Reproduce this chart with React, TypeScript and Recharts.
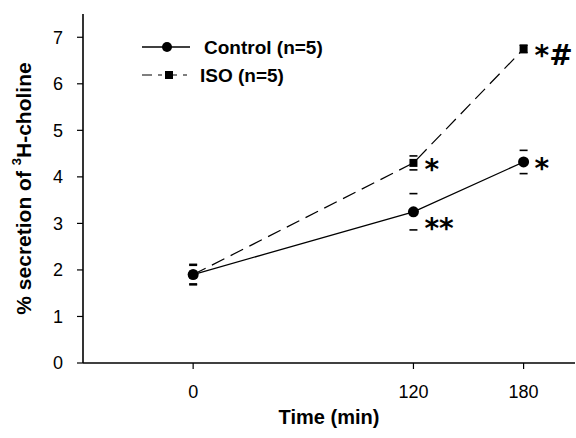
import {
  ComposedChart,
  Line,
  Scatter,
  XAxis,
  YAxis,
  Legend,
  LabelList,
} from 'recharts';

const times = [0, 120, 180];
const controlMean = [1.9, 3.25, 4.32];
const controlErr = [0.22, 0.39, 0.25];
const controlMarks = ['', '**', '*'];
const isoMean = [1.9, 4.3, 6.75];
const isoErr = [0.2, 0.15, 0.08];
const isoMarks = ['', '*', '*#'];
const xTicks = [0, 120, 180];
const yTicks = [0, 1, 2, 3, 4, 5, 6, 7];

const FONT = '"Liberation Sans", Arial, sans-serif';

const controlData = times.map((t, i) => ({ t, v: controlMean[i], mark: controlMarks[i] }));
const isoData = times.map((t, i) => ({ t, v: isoMean[i], mark: isoMarks[i] }));
// error bar caps (mean +/- SEM)
const capData = times.flatMap((t, i) => [
  { t, v: controlMean[i] + controlErr[i] },
  { t, v: controlMean[i] - controlErr[i] },
  { t, v: isoMean[i] + isoErr[i] },
  { t, v: isoMean[i] - isoErr[i] },
]);

const Cap = (props: any) => {
  const { cx, cy } = props;
  return <line x1={cx - 4} x2={cx + 4} y1={cy} y2={cy} stroke="#000" strokeWidth={1.6} />;
};

const SquareDot = (props: any) => {
  const { cx, cy } = props;
  return <rect x={cx - 4} y={cy - 4} width={8} height={8} fill="#000" />;
};

const renderMark = (props: any) => {
  const { x, y, value } = props;
  if (!value) return null;
  const dy = value === '**' ? 10 : 0;
  return (
    <text
      x={x + 11}
      y={y + 16 + dy}
      fontFamily='"DejaVu Sans", sans-serif'
      fontWeight="bold"
      fontSize={28}
      fill="#000"
    >
      {value}
    </text>
  );
};

const YLabel = (props: any) => {
  const vb = props.viewBox || { x: 0, y: 14, width: 83, height: 349 };
  const cx = 23;
  const cy = vb.y + vb.height / 2;
  return (
    <text
      transform={`translate(${cx},${cy}) rotate(-90)`}
      textAnchor="middle"
      dominantBaseline="central"
      fontFamily={FONT}
      fontWeight="bold"
      fontSize={21}
      fill="#000"
    >
      % secretion of <tspan fontSize={13} dy={-7}>3</tspan>
      <tspan dy={7}>H-choline</tspan>
    </text>
  );
};

const XLabel = (props: any) => {
  const vb = props.viewBox || { x: 83, y: 363, width: 492, height: 75 };
  return (
    <text
      x={vb.x + vb.width / 2}
      y={424}
      textAnchor="middle"
      fontFamily={FONT}
      fontWeight="bold"
      fontSize={20}
      fill="#000"
    >
      Time (min)
    </text>
  );
};

const renderLegend = () => (
  <svg width={230} height={60} style={{ overflow: 'visible' }}>
    <g fontFamily={FONT} fontWeight="bold" fontSize={19} fill="#000">
      <line x1={4} x2={52} y1={15} y2={15} stroke="#000" strokeWidth={1.3} />
      <circle cx={29} cy={15} r={5} fill="#000" />
      <text x={66} y={15} dominantBaseline="central">Control (n=5)</text>
      <line x1={4} x2={52} y1={43} y2={43} stroke="#000" strokeWidth={1.2} strokeDasharray="10 6 4 5" />
      <rect x={27} y={39} width={8} height={8} fill="#000" />
      <text x={62} y={43} dominantBaseline="central">ISO (n=5)</text>
    </g>
  </svg>
);

export default function App() {
  return (
    <div style={{ position: 'absolute', left: 0, top: 0, background: '#fff' }}>
      <ComposedChart
        width={576}
        height={438}
        margin={{ top: 14, right: 1, bottom: 0, left: 0 }}
      >
        <XAxis
          type="number"
          dataKey="t"
          domain={[-60, 208]}
          ticks={xTicks}
          allowDataOverflow
          height={75}
          tickSize={6}
          tickMargin={16}
          axisLine={{ stroke: '#000', strokeWidth: 1.6 }}
          tickLine={{ stroke: '#000', strokeWidth: 1.2 }}
          tick={{ fill: '#000', fontSize: 18, fontFamily: FONT }}
          label={<XLabel />}
        />
        <YAxis
          type="number"
          domain={[0, 7.5]}
          ticks={yTicks}
          width={83}
          tickSize={6}
          tickMargin={14}
          axisLine={{ stroke: '#000', strokeWidth: 1.6 }}
          tickLine={{ stroke: '#000', strokeWidth: 1.2 }}
          tick={{ fill: '#000', fontSize: 18, fontFamily: FONT }}
          label={<YLabel />}
        />
        <Legend
          layout="vertical"
          align="center"
          verticalAlign="middle"
          width={230}
          wrapperStyle={{ top: 32, left: 138 }}
          content={renderLegend}
        />
        <Scatter
          data={capData}
          dataKey="v"
          shape={Cap}
          isAnimationActive={false}
          legendType="none"
        />
        <Line
          data={isoData}
          dataKey="v"
          name="ISO (n=5)"
          stroke="#000"
          strokeWidth={1.2}
          strokeDasharray="14 7"
          dot={<SquareDot />}
          activeDot={false}
          isAnimationActive={false}
        >
          <LabelList dataKey="mark" content={renderMark} />
        </Line>
        <Line
          data={controlData}
          dataKey="v"
          name="Control (n=5)"
          stroke="#000"
          strokeWidth={1.3}
          dot={{ r: 5.5, fill: '#000', stroke: '#000', strokeWidth: 0 }}
          activeDot={false}
          isAnimationActive={false}
        >
          <LabelList dataKey="mark" content={renderMark} />
        </Line>
      </ComposedChart>
    </div>
  );
}
